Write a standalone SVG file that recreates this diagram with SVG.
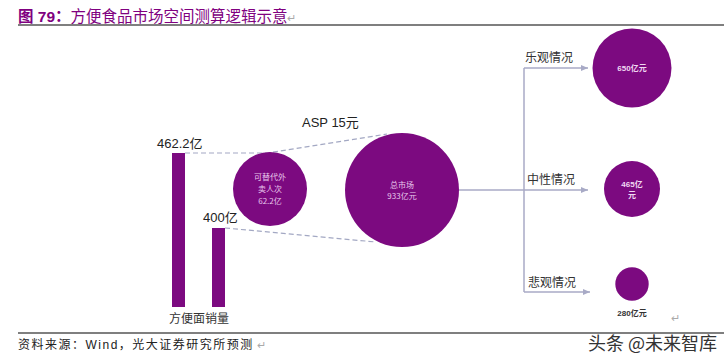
<svg xmlns="http://www.w3.org/2000/svg" width="724" height="363" viewBox="0 0 724 363">
<defs>
<marker id="arr" markerWidth="8" markerHeight="8" refX="7" refY="4" orient="auto" markerUnits="userSpaceOnUse">
<path d="M0,1 L7,4 L0,7 Z" fill="#A8AAC6"/>
</marker>
<style>
.t{font-family:"Liberation Sans","Noto Sans CJK SC",sans-serif;}
.cjk{font-family:"Noto Sans CJK SC","Liberation Sans",sans-serif;}
.purple{fill:#7C0A80;}
.lab{font-size:13px;fill:#222;}
.in{font-size:8px;fill:#E8C8EC;text-anchor:middle;}
.pm{font-size:11px;fill:#AAAAAA;}
.dash{stroke:#A3A8C3;stroke-width:1.2;stroke-dasharray:5,3;fill:none;}
.conn{stroke:#A8AAC6;stroke-width:1.5;fill:none;}
</style>
</defs>
<rect width="724" height="363" fill="#FFFFFF"/>
<g id="title">
<text x="18" y="22" class="t" font-size="15.5" font-weight="bold" fill="#800080">图 79：<tspan class="cjk" font-weight="normal" font-size="15.5">方便食品市场空间测算逻辑示意</tspan></text>
<text x="287" y="22" class="t pm">↵</text>
<line x1="18" y1="25" x2="724" y2="25" stroke="#000" stroke-width="1.2"/>
</g>
<g id="connectors">
<polyline class="dash" points="185,153 268,153 387,134"/>
<line class="dash" x1="225" y1="228" x2="376" y2="242"/>
<line class="conn" x1="459" y1="190" x2="524" y2="190"/>
<line class="conn" x1="524" y1="68" x2="524" y2="292"/>
<line class="conn" x1="524" y1="68" x2="588" y2="68" marker-end="url(#arr)"/>
<line class="conn" x1="524" y1="190" x2="588" y2="190" marker-end="url(#arr)"/>
<line class="conn" x1="524" y1="292" x2="590" y2="292" marker-end="url(#arr)"/>
</g>
<g id="bar-4622">
<rect x="172" y="153" width="13" height="154" class="purple"/>
<text x="157" y="148" class="t lab">462.2亿</text>
</g>
<g id="bar-400">
<rect x="212" y="228" width="13" height="79" class="purple"/>
<text x="203" y="222" class="t lab">400亿</text>
</g>
<g id="label-noodles">
<text x="199" y="323" class="cjk" font-size="12" fill="#333" text-anchor="middle">方便面销量</text>
</g>
<g id="circle-takeout">
<circle cx="270" cy="189" r="37" class="purple"/>
<text x="270" y="180" class="cjk in">可替代外</text>
<text x="270" y="192" class="cjk in">卖人次</text>
<text x="270" y="204" class="cjk in">62.2亿</text>
</g>
<g id="asp">
<text x="302" y="127" class="t lab">ASP 15元</text>
</g>
<g id="circle-total">
<circle cx="402" cy="190" r="57" class="purple"/>
<text x="402" y="188" class="cjk in">总市场</text>
<text x="402" y="199" class="cjk in">933亿元</text>
</g>
<g id="scenario-opt">
<text x="525" y="62" class="cjk" font-size="12" fill="#333">乐观情况</text>
<circle cx="632" cy="68" r="39.5" class="purple"/>
<text x="632" y="71" class="t" font-size="8" font-weight="bold" fill="#F0D8F2" text-anchor="middle">650亿元</text>
</g>
<g id="scenario-neutral">
<text x="527" y="184" class="cjk" font-size="12" fill="#333">中性情况</text>
<circle cx="632" cy="189" r="28" class="purple"/>
<text x="632" y="187" class="t" font-size="8" font-weight="bold" fill="#F0D8F2" text-anchor="middle">465亿</text>
<text x="632" y="198" class="t" font-size="8" font-weight="bold" fill="#F0D8F2" text-anchor="middle">元</text>
</g>
<g id="scenario-pess">
<text x="528" y="287" class="cjk" font-size="12" fill="#333">悲观情况</text>
<circle cx="632" cy="284" r="16.7" class="purple"/>
<text x="632" y="316" class="t" font-size="8" font-weight="bold" fill="#333" text-anchor="middle">280亿元</text>
<text x="671" y="322" class="t pm">↵</text>
</g>
<g id="footer">
<line x1="18" y1="333" x2="724" y2="333" stroke="#000" stroke-width="1.2"/>
<text x="18" y="349" class="t" font-size="12" letter-spacing="1.5" fill="#222">资料来源：Wind，光大证券研究所预测</text>
<text x="257" y="349" class="t pm">↵</text>
<text x="717" y="350" class="cjk" font-size="18" fill="#333" text-anchor="end">头条 @未来智库</text>
</g>
</svg>
